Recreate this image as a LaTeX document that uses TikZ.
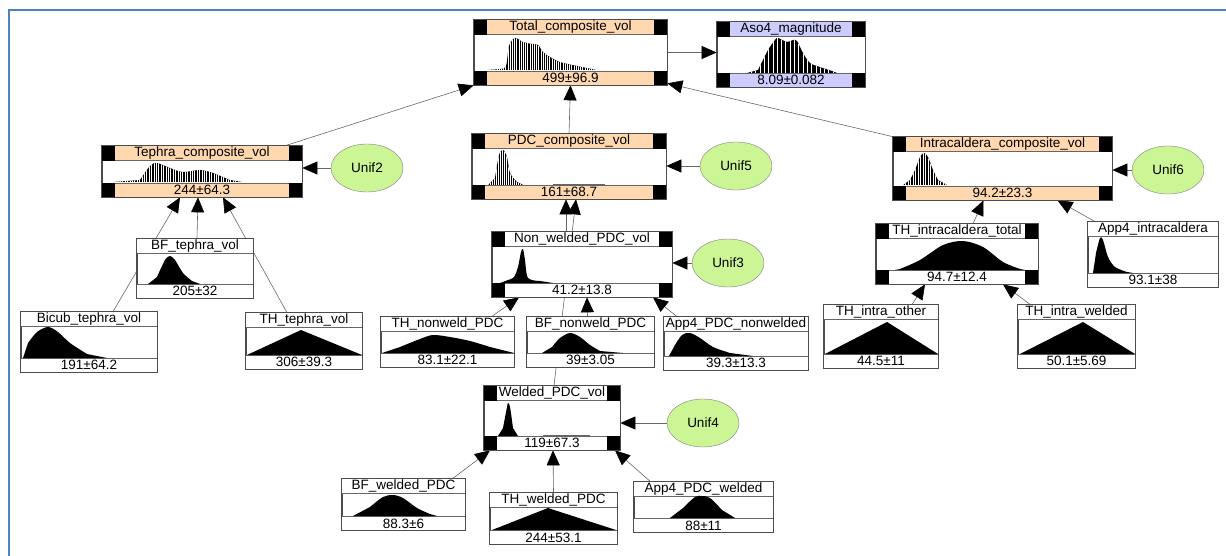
\documentclass[tikz,border=0pt]{standalone}
\usepackage{fontspec}
\setmainfont{Liberation Sans}
\usetikzlibrary{arrows.meta,shapes.geometric,backgrounds}
\definecolor{peach}{RGB}{255,216,176}
\definecolor{lavender}{RGB}{204,204,255}
\definecolor{unifgreen}{RGB}{204,245,150}
\definecolor{frameblue}{RGB}{79,129,189}

\begin{document}
\begin{tikzpicture}[x=1pt,y=-1pt,font=\fontsize{13.5}{15}\selectfont,
  bnbox/.style={draw=black!70,fill=white,line width=0.7pt,inner sep=0pt},
  lbl/.style={inner sep=0pt},
  unif/.style={ellipse,draw=black!50,fill=unifgreen,minimum width=72pt,minimum height=48pt,inner sep=0pt},
  link/.style={draw=black!60,line width=0.6pt,-{Triangle[length=15pt,width=13pt,color=black]}},
  hatch/.style={fill=black,path picture={\foreach \i in {0,...,60}{\draw[white,line width=0.5pt] ([xshift=\i*#1]path picture bounding box.south west) -- ([xshift=\i*#1]path picture bounding box.north west);}}},
  hatch/.default=2.4pt]
\useasboundingbox (0,0) rectangle (1226,556);
\draw[frameblue,line width=2.2pt] (9,556) -- (9,10) -- (1226,10);
\foreach \n/\xa/\ya/\xb/\yb/\c/\s/\t/\v in {
  total/474/20/667/85/peach/1/Total\_composite\_vol/499±96.9,
  aso4/717/22/865/87/lavender/1/Aso4\_magnitude/8.09±0.082,
  tephra/102/146/302/197/peach/1/Tephra\_composite\_vol/244±64.3,
  pdc/472/134/666/199/peach/1/PDC\_composite\_vol/161±68.7,
  intra/893/137/1112/200/peach/1/Intracaldera\_composite\_vol/94.2±23.3,
  nonwelded/492/232/672/297/white/1/Non\_welded\_PDC\_vol/41.2±13.8,
  welded/484/386/620/450/white/1/Welded\_PDC\_vol/119±67.3,
  thintratotal/876/224/1038/284/white/1/TH\_intracaldera\_total/94.7±12.4,
  bftephra/137/239/253/298/white/0/BF\_tephra\_vol/205±32,
  bicub/21/312/157/372/white/0/Bicub\_tephra\_vol/191±64.2,
  thtephra/246/313/362/369/white/0/TH\_tephra\_vol/306±39.3,
  thnonweld/381/317/514/367/white/0/TH\_nonweld\_PDC/83.1±22.1,
  bfnonweld/527/317/654/367/white/0/BF\_nonweld\_PDC/39±3.05,
  app4nonweld/664/317/808/370/white/0/App4\_PDC\_nonwelded/39.3±13.3,
  app4intra/1088/222/1218/287/white/0/App4\_intracaldera/93.1±38,
  thintraother/824/305/938/368/white/0/TH\_intra\_other/44.5±11,
  thintrawelded/1018/305/1135/368/white/0/TH\_intra\_welded/50.1±5.69,
  bfwelded/342/479/465/530/white/0/BF\_welded\_PDC/88.3±6,
  thwelded/490/493/617/544/white/0/TH\_welded\_PDC/244±53.1,
  app4welded/634/482/773/532/white/0/App4\_PDC\_welded/88±11}{
  \node[bnbox,minimum width={\xb-\xa},minimum height={\yb-\ya}] (\n) at ({(\xa+\xb)/2},{(\ya+\yb)/2}) {};
  \fill[\c] (\n.north west) rectangle ([yshift=-15pt]\n.north east);
  \fill[\c] (\n.south west) rectangle ([yshift=14pt]\n.south east);
  \draw[black!60] ([yshift=-15pt]\n.north west) -- ([yshift=-15pt]\n.north east);
  \draw[black!60] ([yshift=14pt]\n.south west) -- ([yshift=14pt]\n.south east);
  \ifnum\s=1
    \fill (\n.north west) rectangle ++(13,15);
    \fill (\n.north east) rectangle ++(-13,15);
    \fill (\n.south west) rectangle ++(13,-14);
    \fill (\n.south east) rectangle ++(-13,-14);
  \fi
  \draw[black!70,line width=0.7pt] (\n.north west) rectangle (\n.south east);
  \node[lbl] (\n-t) at ([yshift=-7.5pt]\n.north) {\t};
  \node[lbl] (\n-v) at ([yshift=7pt]\n.south) {\v};
}
% histograms
\fill[hatch=2.2pt] (488,70) -- plot[smooth] coordinates {(500,69) (506,66) (509,46) (515,38) (523,42) (532,44) (538,45) (543,52) (550,57) (560,62) (577,66) (592,69)} -- (596,70) -- cycle;
\fill[hatch=4.3pt] (747,73) -- plot[smooth] coordinates {(758,70) (768,50) (775,40) (778,38) (787,42) (793,40) (797,41) (803,53) (810,63) (820,67) (832,71)} -- (837,73) -- cycle;
\fill[hatch] (113,182) -- plot[smooth] coordinates {(140,180) (150,166) (157,163) (170,168) (183,172) (200,170) (213,173) (230,180)} -- (242,182) -- cycle;
\fill[hatch=2pt] (488,185) -- plot[smooth] coordinates {(495,178) (499,155) (503,150) (507,157) (510,173) (517,182)} -- (523,185) -- cycle;
\fill[black!60] (553,184.2) rectangle (605,185);
\fill[hatch=2.5pt] (903,185) -- plot[smooth] coordinates {(910,180) (915,170) (920,157) (924,153) (928,157) (933,170) (938,180)} -- (947,185) -- cycle;
\fill (500,283) -- plot[smooth] coordinates {(508,280) (514,277) (518,267) (521,252) (523,249) (525,260) (528,278) (540,281)} -- (553,283) -- cycle;
\fill (498,436) -- plot[smooth] coordinates {(503,428) (507,407) (508,403) (510,407) (513,428)} -- (518,436) -- cycle;
\fill[black!60] (543,435.2) rectangle (590,436);
\fill (148,284) -- plot[smooth] coordinates {(157,277) (165,260) (170,256) (175,260) (183,273) (192,281)} -- (200,284) -- cycle;
\fill (23,358) -- plot[smooth] coordinates {(28,343) (37,332) (48,327) (58,332) (70,343) (87,354)} -- (107,358) -- cycle;
\fill (247,355) -- (301,330) -- (362,355) -- cycle;
\fill (382,353) -- plot[smooth] coordinates {(400,347) (420,339) (433,335) (450,337) (470,341) (490,347)} -- (514,353) -- cycle;
\fill (542,353) -- plot[smooth] coordinates {(552,347) (560,338) (570,333) (580,337) (590,345) (600,351)} -- (623,353) -- cycle;
\fill (669,356) -- plot[smooth] coordinates {(675,345) (682,335) (690,333) (700,338) (713,347) (730,353)} -- (753,356) -- cycle;
\fill (895,270) -- plot[smooth] coordinates {(900,269) (920,260) (943,245) (963,241) (983,247) (1003,262) (1020,269)} -- (1025,270) -- cycle;
\fill (1093,273) -- plot[smooth] coordinates {(1096,253) (1100,238) (1103,240) (1108,257) (1115,267) (1127,272)} -- (1133,273) -- cycle;
\fill (825,354) -- (887,322) -- (938,354) -- cycle;
\fill (1020,354) -- (1083,322) -- (1135,354) -- cycle;
\fill (353,516) -- plot[smooth] coordinates {(370,507) (383,497) (393,495) (403,498) (417,508) (430,514)} -- (437,516) -- cycle;
\fill (492,530) -- (548,508) -- (616,530) -- cycle;
\fill (670,518) -- plot[smooth] coordinates {(683,508) (695,497) (702,496) (710,498) (722,510)} -- (735,518) -- cycle;
% uniform nodes
\node[unif] (unif2) at (367,168) {Unif2};
\node[unif] (unif5) at (736,166) {Unif5};
\node[unif] (unif3) at (728,263) {Unif3};
\node[unif] (unif4) at (703,423) {Unif4};
\node[unif] (unif6) at (1168,170) {Unif6};
\begin{pgfonlayer}{background}
\draw[link] ([xshift=-17pt]tephra.north east) -- (total.south west);
\draw[link] (pdc.north) -- (total.south);
\draw[link] (intra.north west) -- ([yshift=2pt]total.south east);
\draw[link] (total.east) -- (total.east -| aso4.west);
\draw[link] (unif2) -- (unif2 -| tephra.east);
\draw[link] ([xshift=2pt]bftephra.north) -- ([xshift=-4pt]tephra.south);
\draw[link] ([xshift=24pt]bicub.north) -- ([xshift=-22pt]tephra.south);
\draw[link] ([xshift=-17pt]thtephra.north) -- ([xshift=21pt]tephra.south);
\draw[link] (unif5) -- (unif5 -| pdc.east);
\draw[link] ([xshift=-16pt]nonwelded.north) -- ([xshift=-3pt]pdc.south);
\draw[link] ([xshift=2pt]welded.north) -- ([xshift=7pt]pdc.south);
\draw[link] (unif3) -- (unif3 -| nonwelded.east);
\draw[link] ([xshift=44pt]thnonweld.north) -- ([xshift=-63pt]nonwelded.south);
\draw[link] ([xshift=-3pt]bfnonweld.north) -- ([xshift=5pt]nonwelded.south);
\draw[link] ([xshift=-59pt]app4nonweld.north) -- ([xshift=71pt]nonwelded.south);
\draw[link] (unif4) -- (unif4 -| welded.east);
\draw[link] ([xshift=49pt]bfwelded.north) -- ([xshift=-62pt]welded.south);
\draw[link] (thwelded.north) -- ([xshift=1pt]welded.south);
\draw[link] ([xshift=-53pt]app4welded.north) -- ([xshift=63pt]welded.south);
\draw[link] (unif6) -- (unif6 -| intra.east);
\draw[link] ([xshift=16pt]thintratotal.north) -- ([xshift=-19pt]intra.south);
\draw[link] ([xshift=-58pt]app4intra.north) -- ([xshift=55pt]intra.south);
\draw[link] ([xshift=31pt]thintraother.north) -- ([xshift=-32pt]thintratotal.south);
\draw[link] ([xshift=-46pt]thintrawelded.north) -- ([xshift=46pt]thintratotal.south);
\end{pgfonlayer}
\end{tikzpicture}
\end{document}
